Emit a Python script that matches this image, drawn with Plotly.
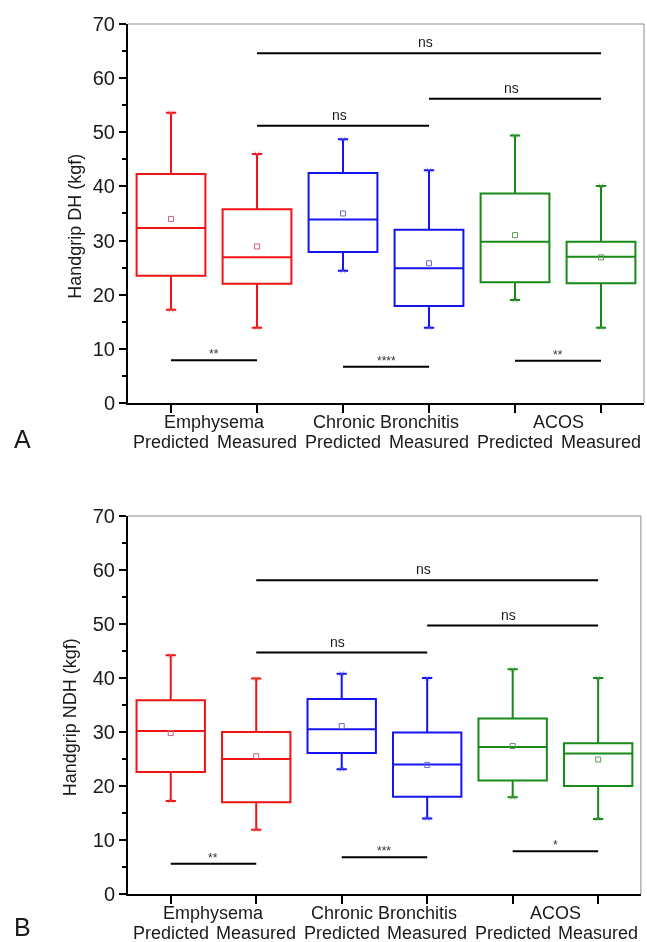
import plotly.graph_objects as go

positions = [1, 2, 3, 4, 5, 6]
groups = ["Emphysema", "Chronic Bronchitis", "ACOS"]
conditions = ["Predicted", "Measured", "Predicted", "Measured", "Predicted", "Measured"]

# Panel A: Handgrip DH (kgf)
dh_lower = [17.2, 13.9, 24.4, 13.9, 19.0, 13.9]
dh_q1 = [23.5, 22.0, 27.9, 17.9, 22.3, 22.1]
dh_median = [32.3, 26.9, 33.9, 24.9, 29.8, 27.0]
dh_q3 = [42.3, 35.8, 42.5, 32.0, 38.7, 29.8]
dh_upper = [53.6, 46.0, 48.7, 43.0, 49.4, 40.1]
dh_mean = [34.0, 28.9, 35.0, 25.8, 31.0, 26.9]

# Panel B: Handgrip NDH (kgf)
ndh_lower = [17.2, 11.9, 23.1, 14.0, 17.9, 13.9]
ndh_q1 = [22.6, 17.0, 26.1, 18.0, 21.0, 20.0]
ndh_median = [30.2, 25.0, 30.5, 24.0, 27.2, 26.0]
ndh_q3 = [35.9, 30.0, 36.1, 29.9, 32.5, 27.9]
ndh_upper = [44.2, 39.9, 40.8, 40.0, 41.6, 40.0]
ndh_mean = [29.8, 25.5, 31.1, 23.9, 27.4, 24.9]

# Significance comparisons
comp_from = [2, 2, 4, 1, 3, 5]
comp_to = [6, 4, 6, 2, 4, 6]
dh_comp_y = [64.6, 51.2, 56.2, 7.9, 6.7, 7.8]
dh_comp_label = ["ns", "ns", "ns", "**", "****", "**"]
ndh_comp_y = [58.1, 44.7, 49.7, 5.6, 6.8, 7.9]
ndh_comp_label = ["ns", "ns", "ns", "**", "***", "*"]

box_colors = ["#f01414", "#f01414", "#1414f0", "#1414f0", "#178a17", "#178a17"]
mean_colors = ["#d0607a", "#d0607a", "#6a6ad0", "#6a6ad0", "#5a9a5a", "#5a9a5a"]

FONT = "Liberation Sans, Arial, sans-serif"
TXT = "#1a1a1a"

fig = go.Figure()

panels = [
    dict(xa="x", ya="y", lower=dh_lower, q1=dh_q1, med=dh_median, q3=dh_q3,
         upper=dh_upper, mean=dh_mean, cy=dh_comp_y, cl=dh_comp_label),
    dict(xa="x2", ya="y2", lower=ndh_lower, q1=ndh_q1, med=ndh_median, q3=ndh_q3,
         upper=ndh_upper, mean=ndh_mean, cy=ndh_comp_y, cl=ndh_comp_label),
]

annotations = []
shapes = []

for p in panels:
    for i, pos in enumerate(positions):
        fig.add_trace(go.Box(
            x=[pos], q1=[p["q1"][i]], median=[p["med"][i]], q3=[p["q3"][i]],
            lowerfence=[p["lower"][i]], upperfence=[p["upper"][i]],
            width=0.8, whiskerwidth=0.15, boxpoints=False,
            line=dict(color=box_colors[i], width=2),
            fillcolor="rgba(0,0,0,0)", showlegend=False, hoverinfo="skip",
            xaxis=p["xa"], yaxis=p["ya"]))
    # mean markers
    fig.add_trace(go.Scatter(
        x=positions, y=p["mean"], mode="markers",
        marker=dict(symbol="square-open", size=5, color=mean_colors,
                    line=dict(width=1, color=mean_colors)),
        showlegend=False, hoverinfo="skip", xaxis=p["xa"], yaxis=p["ya"]))
    # whisker end markers
    fig.add_trace(go.Scatter(
        x=positions + positions, y=p["upper"] + p["lower"], mode="markers",
        marker=dict(symbol="x-thin", size=5, color=mean_colors + mean_colors,
                    line=dict(width=1, color=mean_colors + mean_colors)),
        opacity=0.6, showlegend=False, hoverinfo="skip",
        xaxis=p["xa"], yaxis=p["ya"]))
    # significance lines
    for a, b, yv, lab in zip(comp_from, comp_to, p["cy"], p["cl"]):
        fig.add_trace(go.Scatter(
            x=[a, b], y=[yv, yv], mode="lines",
            line=dict(color="black", width=2),
            showlegend=False, hoverinfo="skip", xaxis=p["xa"], yaxis=p["ya"]))
        is_ns = lab == "ns"
        annotations.append(dict(
            x=(a + b) / 2, y=yv, xref=p["xa"], yref=p["ya"], text=lab,
            showarrow=False, yanchor="middle",
            yshift=11 if is_ns else 6, xshift=-4 if is_ns else 0,
            font=dict(family=FONT, size=14 if is_ns else 12,
                      color=TXT if is_ns else "#333333")))
    # category labels
    xdom = p["xa"] + " domain"
    ydom = p["ya"] + " domain"
    for pos, cond in zip(positions, conditions):
        annotations.append(dict(
            x=pos, y=0, xref=p["xa"], yref=ydom, text=cond, showarrow=False,
            yanchor="middle", yshift=-39, font=dict(family=FONT, size=18, color=TXT)))
    for g, name in enumerate(groups):
        annotations.append(dict(
            x=(positions[2 * g] + positions[2 * g + 1]) / 2, y=0, xref=p["xa"], yref=ydom,
            text=name, showarrow=False, yanchor="middle", yshift=-19,
            font=dict(family=FONT, size=18, color=TXT)))
    # top and right thin gray frame
    shapes.append(dict(type="line", xref=xdom, yref=ydom, x0=0, x1=1, y0=1, y1=1,
                       line=dict(color="#8a8a8a", width=1)))
    shapes.append(dict(type="line", xref=xdom, yref=ydom, x0=1, x1=1, y0=0, y1=1,
                       line=dict(color="#8a8a8a", width=1)))

# axis titles and panel letters
annotations.append(dict(x=-0.103, y=0.768, xref="paper", yref="paper",
                        text="Handgrip DH (kgf)", textangle=-90, showarrow=False,
                        xanchor="center", yanchor="middle",
                        font=dict(family=FONT, size=18, color=TXT)))
annotations.append(dict(x=-0.112, y=0.2034, xref="paper", yref="paper",
                        text="Handgrip NDH (kgf)", textangle=-90, showarrow=False,
                        xanchor="center", yanchor="middle",
                        font=dict(family=FONT, size=18, color=TXT)))
annotations.append(dict(x=-0.2035, y=0.523, xref="paper", yref="paper", text="A",
                        showarrow=False, xanchor="center", yanchor="middle",
                        font=dict(family=FONT, size=25, color=TXT)))
annotations.append(dict(x=-0.2035, y=-0.038, xref="paper", yref="paper", text="B",
                        showarrow=False, xanchor="center", yanchor="middle",
                        font=dict(family=FONT, size=25, color=TXT)))

xcommon = dict(range=[0.5, 6.5], tickvals=positions, showticklabels=False,
               ticks="outside", ticklen=8, tickwidth=2, tickcolor="black",
               showline=True, linecolor="black", linewidth=2,
               showgrid=False, zeroline=False, fixedrange=True)
ycommon = dict(range=[0, 70], tickvals=[0, 10, 20, 30, 40, 50, 60, 70],
               ticks="outside", ticklen=7, tickwidth=2, tickcolor="black",
               showline=True, linecolor="black", linewidth=2,
               showgrid=False, zeroline=False,
               tickfont=dict(family=FONT, size=20, color=TXT),
               minor=dict(ticks="outside", ticklen=4, tickwidth=2, tickcolor="black",
                          dtick=5, tick0=0, showgrid=False))

fig.update_layout(
    width=647, height=942,
    margin=dict(l=128, r=3, t=24, b=48),
    paper_bgcolor="white", plot_bgcolor="white",
    boxmode="overlay",
    xaxis=dict(domain=[0, 1], anchor="y", **xcommon),
    yaxis=dict(domain=[0.5644, 1], anchor="x", **ycommon),
    xaxis2=dict(domain=[0, 0.994], anchor="y2", **xcommon),
    yaxis2=dict(domain=[0, 0.4345], anchor="x2", **ycommon),
    annotations=annotations, shapes=shapes,
    font=dict(family=FONT, color=TXT),
)

fig.write_html(
    "out.html",
    config={"displayModeBar": False},
    post_script="document.body.style.margin='0';document.body.style.overflow='hidden';",
)
